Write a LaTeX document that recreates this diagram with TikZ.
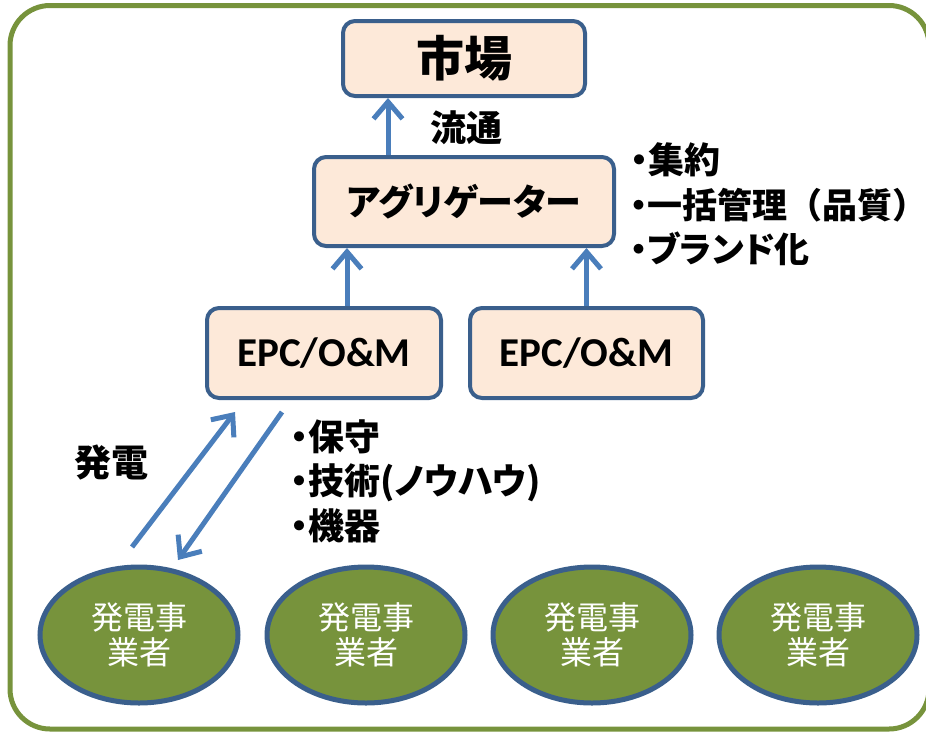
\documentclass[tikz,border=0pt]{standalone}
\usepackage{fontspec}
\setmainfont{Carlito}
\newfontfamily\jp{Noto Sans CJK JP}
\newfontfamily\jpp{Noto Sans CJK JP}[RawFeature=+palt]
\usetikzlibrary{arrows.meta,shapes.geometric,calc}
\definecolor{frameGreen}{HTML}{77933C}
\definecolor{ellGreen}{HTML}{77933C}
\definecolor{boxBorder}{HTML}{3A5F8C}
\definecolor{boxFill}{HTML}{FDE9D9}
\definecolor{arrowBlue}{HTML}{4A7EBB}
\newcommand{\bul}{{\jpp ・}}
\tikzset{
  rbox/.style={draw=boxBorder, fill=boxFill, line width=4pt, rounded corners=12pt, inner sep=0pt},
  gen/.style={ellipse, draw=boxBorder, fill=ellGreen, line width=5pt, minimum width=198pt, minimum height=136pt, inner sep=0pt, text=white, align=center, font=\jp\fontsize{32}{35}\selectfont},
  arr/.style={draw=arrowBlue, line width=5pt, -{Straight Barb[length=17pt,width=29pt,line width=5pt]}},
  lbl/.style={inner sep=0pt, text=black, font=\jp\bfseries\fontsize{36}{40}\selectfont},
  frameline/.style={draw=frameGreen, line width=5pt, rounded corners=40pt}
}
\begin{document}
\begin{tikzpicture}[x=1pt,y=-1pt]
\useasboundingbox (0,0) rectangle (926,732);
\draw[frameline] (10,5.5) rectangle (929,729);

% boxes
\node[rbox, minimum width=242pt, minimum height=75pt, font=\jp\bfseries\fontsize{48}{52}\selectfont] (mk) at (464,58.5) {市場};
\node[rbox, minimum width=300pt, minimum height=89pt, font=\jpp\bfseries\fontsize{36}{40}\selectfont] (agg) at (464,201.5) {アグリゲーター};
\node[rbox, minimum width=234pt, minimum height=90pt, font=\bfseries\fontsize{41}{46}\selectfont] (epc1) at (324,353) {EPC/O\&M};
\node[rbox, minimum width=233pt, minimum height=90pt, font=\bfseries\fontsize{41}{46}\selectfont] (epc2) at (586.5,353) {EPC/O\&M};

% ellipses
\node[gen] (g1) at (139,635) {発電事\\業者};
\node[gen] (g2) at (366,635) {発電事\\業者};
\node[gen] (g3) at (592,635) {発電事\\業者};
\node[gen] (g4) at (818,635) {発電事\\業者};

% vertical arrows
\draw[arr] ([xshift=-76pt]agg.north) -- ([xshift=-76pt]agg.north |- mk.south);
\draw[arr] ([xshift=23pt]epc1.north) -- ([xshift=23pt]epc1.north |- agg.south);
\draw[arr] (epc2.north) -- (epc2.north |- agg.south);

% diagonal arrows
\coordinate (upS) at (132,547);
\coordinate (upE) at (235,412);
\coordinate (dnS) at (282,412);
\coordinate (dnE) at (178,560);
\draw[arr] (upS) -- (upE);
\draw[arr] (dnS) -- (dnE);

% labels
\node[lbl] (ryutsu) at (466,128) {流通};
\node[lbl, anchor=west] (r1) at (630,160) {\bul 集約};
\node[lbl, anchor=west, font=\jp\bfseries\fontsize{35}{40}\selectfont] (r2) at (630,205) {\bul 一括管理（品質）};
\node[lbl, anchor=west, font=\jpp\bfseries\fontsize{35}{40}\selectfont] (r3) at (630,249) {\bul ブランド化};
\node[lbl, anchor=west] (b1) at (290,437) {\bul 保守};
\node[lbl, anchor=west, font=\jpp\bfseries\fontsize{36}{40}\selectfont] (b2) at (290,483) {\bul 技術(ノウハウ)};
\node[lbl, anchor=west] (b3) at (290,526) {\bul 機器};
\node[lbl, font=\jp\bfseries\fontsize{37}{40}\selectfont] (hatsuden) at (111,463) {発電};
\end{tikzpicture}
\end{document}
